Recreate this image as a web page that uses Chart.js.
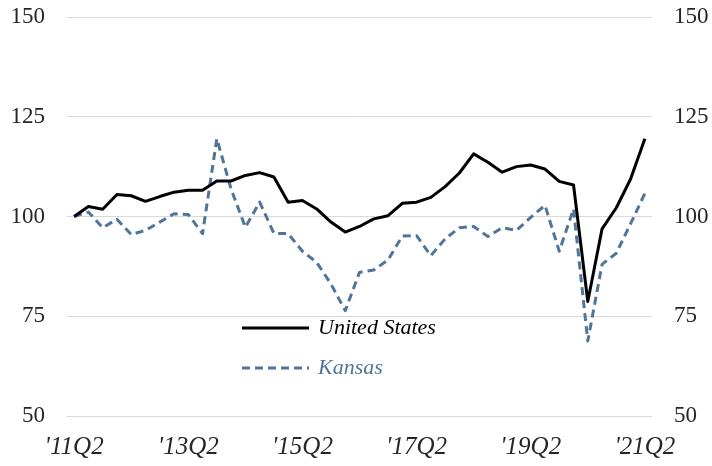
<!DOCTYPE html>
<html>
<head>
<meta charset="utf-8">
<script src="https://cdn.jsdelivr.net/npm/chart.js@4/dist/chart.umd.min.js"></script>
<style>
  html, body { margin: 0; padding: 0; background: #fff; }
  #wrap { width: 712px; height: 466px; }
</style>
</head>
<body>
<div id="wrap"><canvas id="chart"></canvas></div>
<script>
// Quarterly index, 2011Q2 = 100
const quarters = [];
for (let y = 11; y <= 21; y++) {
  for (let q = 1; q <= 4; q++) {
    if ((y === 11 && q < 2) || (y === 21 && q > 2)) continue;
    quarters.push("'" + y + 'Q' + q);
  }
}

const usValues = [
  100.0, 102.5, 101.8, 105.5, 105.2, 103.8, 105.0, 106.1, 106.6, 106.6,
  108.9, 108.9, 110.3, 111.0, 109.9, 103.6, 104.0, 101.9, 98.6, 96.1,
  97.5, 99.4, 100.2, 103.3, 103.6, 104.8, 107.5, 110.9, 115.7, 113.6,
  111.1, 112.5, 112.9, 111.9, 108.8, 107.9, 78.7, 96.9, 102.2, 109.4,
  119.5
];

const kansasValues = [
  100.0, 101.1, 97.2, 99.3, 95.5, 96.5, 98.6, 100.7, 100.5, 95.7,
  119.5, 106.9, 97.3, 103.6, 95.8, 95.7, 91.3, 88.5, 83.1, 76.4,
  86.0, 86.6, 89.1, 95.1, 95.2, 90.2, 94.4, 97.2, 97.5, 95.0,
  97.2, 96.5, 99.8, 102.8, 91.3, 101.9, 68.8, 88.0, 90.8, 98.2,
  105.8
];

const yTicks = [50, 75, 100, 125, 150];

const US_COLOR = '#000000';
const KS_COLOR = '#4f7699';
const TEXT_COLOR = '#262626';
const SERIF = '"Liberation Serif", "DejaVu Serif", serif';

// ── Legend drawn inside the plot area ─────────────────────────────────────────
const innerLegend = {
  id: 'innerLegend',
  afterDatasetsDraw(chart) {
    const { ctx, chartArea } = chart;
    const x0 = chartArea.left + 175;
    const items = [
      { label: 'United States', color: US_COLOR, dash: [], y: chartArea.top + 311 },
      { label: 'Kansas', color: KS_COLOR, dash: [8, 5], y: chartArea.top + 351 },
    ];
    ctx.save();
    items.forEach(it => {
      ctx.beginPath();
      ctx.setLineDash(it.dash);
      ctx.lineWidth = 3;
      ctx.strokeStyle = it.color;
      ctx.moveTo(x0, it.y);
      ctx.lineTo(x0 + 67, it.y);
      ctx.stroke();
      ctx.setLineDash([]);
      ctx.fillStyle = it.color;
      ctx.font = 'italic 22px ' + SERIF;
      ctx.textBaseline = 'middle';
      ctx.fillText(it.label, x0 + 76, it.y);
    });
    ctx.restore();
  }
};

// fixed axis width, and no extra vertical room for the end labels
function fitY(width) {
  return axis => {
    axis.width = width;
    axis.paddingTop = 0;
    axis.paddingBottom = 0;
  };
}

const yAxisBase = {
  min: 50,
  max: 150,
  afterBuildTicks(axis) { axis.ticks = yTicks.map(v => ({ value: v })); },
  border: { display: false },
  ticks: { color: TEXT_COLOR, font: { family: SERIF, size: 23 }, padding: 22 },
};

new Chart(document.getElementById('chart'), {
  type: 'line',
  data: {
    labels: quarters,
    datasets: [
      {
        label: 'United States',
        data: usValues,
        borderColor: US_COLOR,
        borderWidth: 3,
        borderJoinStyle: 'round',
        pointRadius: 0,
        tension: 0,
        yAxisID: 'y',
      },
      {
        label: 'Kansas',
        data: kansasValues,
        borderColor: KS_COLOR,
        borderWidth: 3,
        borderDash: [8, 5],
        borderJoinStyle: 'round',
        pointRadius: 0,
        tension: 0,
        yAxisID: 'y',
      },
    ],
  },
  options: {
    responsive: true,
    maintainAspectRatio: false,
    animation: false,
    layout: { padding: { top: 17, left: 0, right: 0, bottom: 0 } },
    plugins: {
      legend: { display: false },
      tooltip: { enabled: false },
    },
    scales: {
      x: {
        offset: true,
        grid: { display: false },
        border: { display: false },
        ticks: {
          autoSkip: false,
          maxRotation: 0,
          color: TEXT_COLOR,
          font: { family: SERIF, size: 25, style: 'italic' },
          padding: 8,
          callback(value, index) { return index % 8 === 0 ? quarters[index] : ''; },
        },
        afterFit(axis) {
          axis.height = 50;
          axis.paddingLeft = 0;
          axis.paddingRight = 0;
        },
      },
      y: {
        ...yAxisBase,
        position: 'left',
        grid: { color: '#d9d9d9', lineWidth: 1, drawTicks: false },
        afterFit: fitY(67),
      },
      y2: {
        ...yAxisBase,
        position: 'right',
        grid: { display: false, drawTicks: false },
        afterFit: fitY(60),
      },
    },
  },
  plugins: [innerLegend],
});
</script>
</body>
</html>
